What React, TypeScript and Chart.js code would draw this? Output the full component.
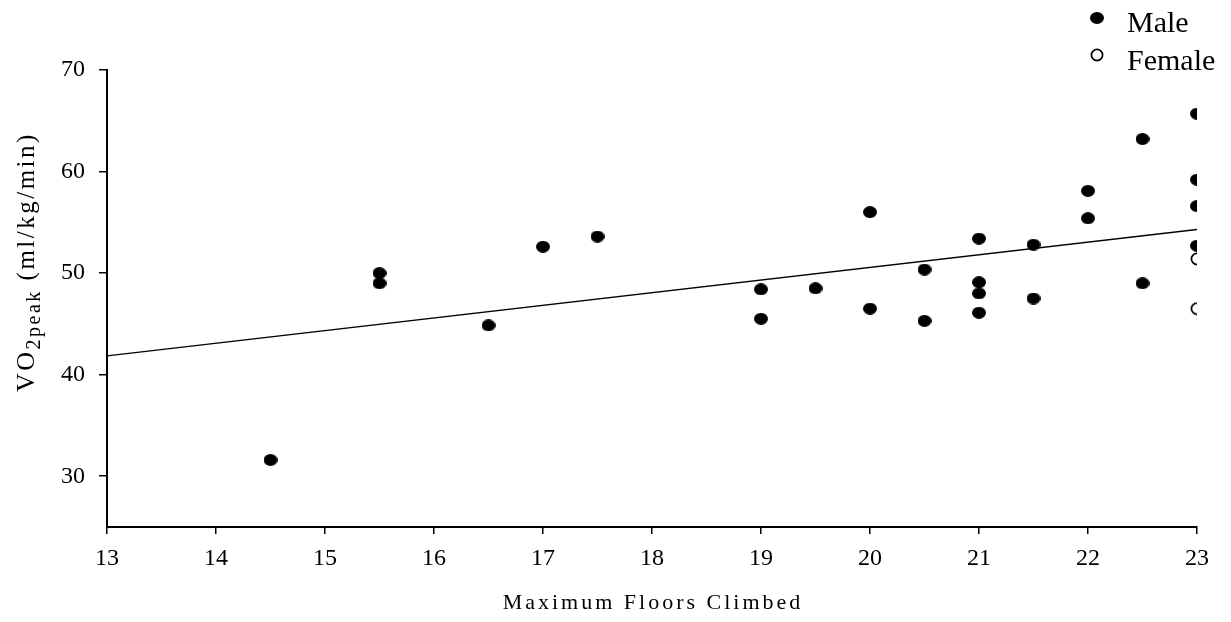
import React, { useEffect, useRef } from "react";
import { Chart, registerables } from "chart.js";

Chart.register(...registerables);

const maleFloors = [14.5, 15.5, 15.5, 16.5, 17, 17.5, 19, 19, 19.5, 20, 20, 20.5, 20.5, 21, 21, 21, 21, 21.5, 21.5, 22, 22, 22.5, 22.5, 23, 23, 23, 23];
const maleVO2 = [31.6, 50.0, 49.0, 44.85, 52.6, 53.6, 48.4, 45.5, 48.5, 56.0, 46.5, 50.35, 45.3, 53.4, 49.1, 48.0, 46.1, 52.8, 47.5, 58.1, 55.4, 63.2, 49.0, 65.7, 59.2, 56.6, 52.7];
const femaleFloors = [23, 23];
const femaleVO2 = [51.4, 46.5];
const fitFloors = [13, 23];
const fitVO2 = [41.85, 54.3];
const xTicks = [13, 14, 15, 16, 17, 18, 19, 20, 21, 22, 23];
const yTicks = [30, 40, 50, 60, 70];
const legendLabels = ["Male", "Female"];
const xTitle = "Maximum Floors Climbed";
const yTitleMain = "VO";
const yTitleSub = "2peak";
const yTitleUnit = " (ml/kg/min)";

const FONT = "'Liberation Serif', 'Times New Roman', serif";

function makeDot(filled: boolean): HTMLCanvasElement {
  const c = document.createElement("canvas");
  const w = 14;
  const h = filled ? 12 : 14;
  c.width = w;
  c.height = h;
  const ctx = c.getContext("2d")!;
  ctx.beginPath();
  if (filled) {
    ctx.ellipse(w / 2, h / 2, w / 2, h / 2, 0, 0, Math.PI * 2);
    ctx.fillStyle = "#000";
    ctx.fill();
  } else {
    ctx.ellipse(w / 2, h / 2, 5.6, 5.6, 0, 0, Math.PI * 2);
    ctx.fillStyle = "#fff";
    ctx.fill();
    ctx.lineWidth = 1.7;
    ctx.strokeStyle = "#000";
    ctx.stroke();
  }
  return c;
}

export default function App() {
  const ref = useRef<HTMLCanvasElement | null>(null);

  useEffect(() => {
    document.body.style.margin = "0";
    const canvas = ref.current;
    if (!canvas) return;
    const maleDot = makeDot(true);
    const femaleDot = makeDot(false);

    const textPlugin = {
      id: "customText",
      afterDraw(chart: any) {
        const { ctx, chartArea } = chart;
        ctx.save();
        ctx.fillStyle = "#000";
        // x title
        ctx.font = `22px ${FONT}`;
        (ctx as any).letterSpacing = "3px";
        ctx.textAlign = "center";
        ctx.textBaseline = "alphabetic";
        ctx.fillText(xTitle, (chartArea.left + chartArea.right) / 2 + 1, 609);
        (ctx as any).letterSpacing = "0px";

        // y title (rotated, with subscript)
        ctx.save();
        ctx.translate(34, 392);
        ctx.rotate(-Math.PI / 2);
        ctx.textAlign = "left";
        ctx.textBaseline = "alphabetic";
        (ctx as any).letterSpacing = "2.5px";
        ctx.font = `26px ${FONT}`;
        ctx.fillText(yTitleMain, 0, 0);
        let off = ctx.measureText(yTitleMain).width;
        ctx.font = `20px ${FONT}`;
        ctx.fillText(yTitleSub, off, 6);
        off += ctx.measureText(yTitleSub).width;
        ctx.font = `25px ${FONT}`;
        ctx.fillText(yTitleUnit, off, 0);
        (ctx as any).letterSpacing = "0px";
        ctx.restore();

        // legend
        ctx.font = `30px ${FONT}`;
        ctx.textAlign = "left";
        ctx.textBaseline = "alphabetic";
        const items = [maleDot, femaleDot];
        const dotY = [18, 55];
        const textY = [32, 70];
        legendLabels.forEach((lab, i) => {
          const img = items[i];
          ctx.drawImage(img, 1097 - img.width / 2, dotY[i] - img.height / 2);
          ctx.fillText(lab, 1127, textY[i]);
        });
        ctx.restore();
      },
    };

    const chart = new Chart(canvas, {
      type: "scatter",
      data: {
        datasets: [
          {
            type: "line",
            label: "fit",
            data: fitFloors.map((x, i) => ({ x, y: fitVO2[i] })),
            borderColor: "#000",
            borderWidth: 1.4,
            pointRadius: 0,
            fill: false,
            order: 0,
          } as any,
          {
            label: legendLabels[0],
            data: maleFloors.map((x, i) => ({ x, y: maleVO2[i] })),
            pointStyle: maleDot,
            pointRadius: 7,
            order: 1,
          },
          {
            label: legendLabels[1],
            data: femaleFloors.map((x, i) => ({ x, y: femaleVO2[i] })),
            pointStyle: femaleDot,
            pointRadius: 7,
            order: 1,
          },
        ],
      },
      options: {
        animation: false,
        responsive: false,
        maintainAspectRatio: false,
        events: [],
        layout: { padding: { top: 70, right: 34, left: 0, bottom: 0 } },
        plugins: {
          legend: { display: false },
          tooltip: { enabled: false },
          title: { display: false },
        },
        scales: {
          x: {
            type: "linear",
            min: 13,
            max: 23,
            afterBuildTicks: (s: any) => {
              s.ticks = xTicks.map((v) => ({ value: v }));
            },
            afterFit: (s: any) => {
              s.height = 95;
            },
            grid: {
              drawOnChartArea: false,
              drawTicks: true,
              tickLength: 7,
              color: "#000",
              lineWidth: 1.5,
            },
            border: { display: true, color: "#000", width: 2 },
            ticks: {
              color: "#000",
              font: { family: FONT, size: 24 },
              padding: 10,
              maxRotation: 0,
              autoSkip: false,
            },
          },
          y: {
            type: "linear",
            min: 25,
            max: 70,
            afterBuildTicks: (s: any) => {
              s.ticks = yTicks.map((v) => ({ value: v }));
            },
            afterFit: (s: any) => {
              s.width = 107;
            },
            grid: {
              drawOnChartArea: false,
              drawTicks: true,
              tickLength: 8,
              color: "#000",
              lineWidth: 1.5,
            },
            border: { display: true, color: "#000", width: 2 },
            ticks: {
              color: "#000",
              font: { family: FONT, size: 24 },
              padding: 14,
              autoSkip: false,
            },
          },
        },
      },
      plugins: [textPlugin],
    });

    return () => chart.destroy();
  }, []);

  return (
    <div style={{ width: 1231, height: 622 }}>
      <canvas ref={ref} width={1231} height={622} style={{ display: "block", width: 1231, height: 622 }} />
    </div>
  );
}
